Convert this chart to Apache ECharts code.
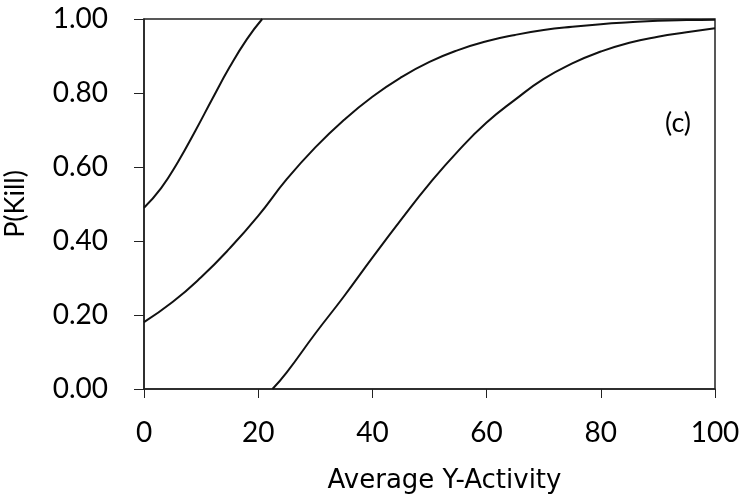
<!DOCTYPE html>
<html><head><meta charset="utf-8">
<script src="https://cdn.jsdelivr.net/npm/echarts@6/dist/echarts.min.js"></script>
<style>html,body{margin:0;padding:0;background:#fff}#c{width:745px;height:501px}</style>
</head><body><div id="c"></div>
<script>
var xTicks = [0, 20, 40, 60, 80, 100];
var yTicks = [0, 0.2, 0.4, 0.6, 0.8, 1.0];
var curveA = [[0,0.49],[3,0.543],[6,0.615],[9,0.698],[12,0.785],[15,0.87],[18,0.945],[20.7,1.0]];
var curveB = [[0,0.181],[5,0.235],[10,0.302],[15,0.38],[20,0.468],[25,0.567],[30,0.653],[35,0.727],[40,0.79],[45,0.842],[50,0.884],[55,0.916],[60,0.94],[65,0.957],[70,0.97],[75,0.979],[80,0.986],[85,0.991],[90,0.995],[95,0.997],[100,0.998]];
var curveC = [[22.5,0.0],[25,0.045],[30,0.15],[35,0.25],[40,0.355],[45,0.457],[50,0.555],[55,0.643],[60,0.72],[65,0.782],[70,0.838],[75,0.88],[80,0.912],[85,0.936],[90,0.952],[95,0.964],[100,0.975]];
var labelC = '(c)';

var font = 'Lato, "Open Sans", sans-serif';
var chart = echarts.init(document.getElementById('c'));
function line(d){return {type:'line',data:d,smooth:0.5,showSymbol:false,lineStyle:{color:'#111',width:2},z:3};}
chart.setOption({
  animation:false,
  backgroundColor:'#fff',
  grid:{left:144,right:30,top:19,bottom:112,containLabel:false,outerBoundsMode:'none',show:true,borderColor:'#222',borderWidth:1.5},
  xAxis:{type:'value',min:0,max:100,interval:20,
    axisLine:{show:true,onZero:false,lineStyle:{color:'#222',width:1.5}},
    axisTick:{show:true,inside:false,length:9,lineStyle:{color:'#222'}},
    splitLine:{show:false},
    axisLabel:{color:'#000',fontSize:28,fontFamily:font,margin:30},
    name:'Average Y-Activity',nameLocation:'middle',nameGap:79,
    nameTextStyle:{color:'#000',fontSize:26,fontFamily:'"DejaVu Sans", sans-serif',padding:[0,0,0,30]}},
  yAxis:{type:'value',min:0,max:1,interval:0.2,
    axisLine:{show:true,lineStyle:{color:'#222',width:1.5}},
    axisTick:{show:true,inside:false,length:10,lineStyle:{color:'#222'}},
    splitLine:{show:false},
    axisLabel:{color:'#000',fontSize:28,fontFamily:font,margin:36,formatter:function(v){return v.toFixed(2);}},
    name:'P(Kill)',nameLocation:'middle',nameGap:115,nameRotate:90,
    nameTextStyle:{color:'#000',fontSize:27,fontFamily:font}},
  graphic:[{type:'text',left:665,top:110,style:{text:labelC,fontSize:27,fontFamily:font,fill:'#000'}}],
  series:[line(curveA),line(curveB),line(curveC)]
});
</script></body></html>
